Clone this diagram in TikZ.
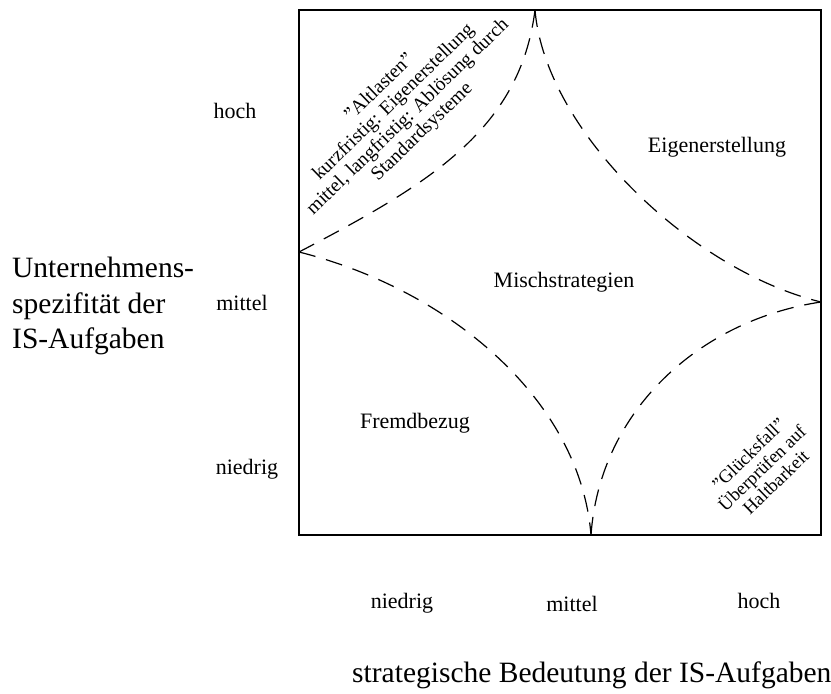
\documentclass[tikz,border=0pt]{standalone}
\usepackage{fontspec}
\setmainfont{Liberation Serif}
\begin{document}
\begin{tikzpicture}[x=1pt,y=-1pt,
  lbl/.style={font=\fontsize{22}{26}\selectfont, inner sep=0pt, anchor=base},
  big/.style={font=\fontsize{29.5}{35.5}\selectfont, inner sep=0pt, anchor=base west},
  border/.style={line width=1.2pt},
  curve/.style={line width=1.2pt, dash pattern=on 17pt off 11pt},
  rottxt/.style={align=center, inner sep=0pt, rotate=44}
]
\useasboundingbox (0,0) rectangle (831,694);
% frame
\draw[border] (299,10) rectangle (821,535);
% cusps
\coordinate (T) at (535,10);
\coordinate (L) at (299,252);
\coordinate (R) at (821,302);
\coordinate (B) at (591,535);
% dashed curves
\draw[curve] (L) .. controls (429,184) and (520,130) .. (T);
\draw[curve] (T) .. controls (545,130) and (690,270) .. (R);
\draw[curve] (L) .. controls (450,290) and (580,400) .. (B);
\draw[curve] (R) .. controls (700,320) and (600,410) .. (B);
% left axis labels
\node[lbl] (yh) at (235,118) {hoch};
\node[lbl] (ym) at (242,310) {mittel};
\node[lbl] (yn) at (247,474) {niedrig};
% bottom axis labels
\node[lbl] (xn) at (402,608) {niedrig};
\node[lbl] (xm) at (572,611) {mittel};
\node[lbl] (xh) at (759,608) {hoch};
% axis titles
\node[big] (u1) at (12,277) {Unternehmens-};
\node[big] (u2) at (12,313) {spezifität der};
\node[big] (u3) at (12,348) {IS-Aufgaben};
\node[big] (s1) at (352,682) {strategische Bedeutung der IS-Aufgaben};
% region labels
\node[lbl] (eig) at (717,152) {Eigenerstellung};
\node[lbl] (mix) at (564,287) {Mischstrategien};
\node[lbl] (fre) at (415,428) {Fremdbezug};
% rotated notes
\node[rottxt, font=\fontsize{19.5}{20.5}\selectfont] (alt) at (401,110)
  {"Altlasten"\\kurzfristig: Eigenerstellung\\mittel, langfristig: Ablösung durch\\Standardsysteme};
\node[rottxt, font=\fontsize{18.5}{19.5}\selectfont] (gl) at (762,468)
  {"Glücksfall"\\Überprüfen auf\\Haltbarkeit};
\end{tikzpicture}
\end{document}
